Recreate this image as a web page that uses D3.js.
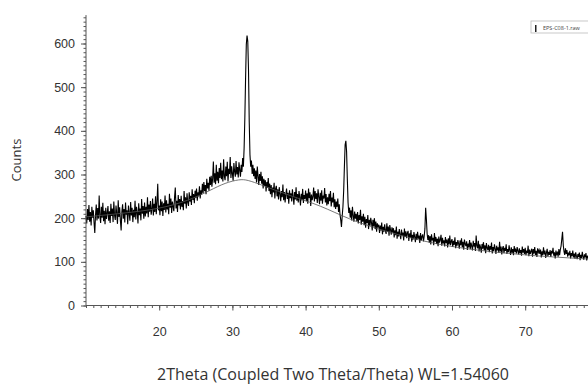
<!DOCTYPE html>
<html>
<head>
<meta charset="utf-8">
<script src="https://cdn.jsdelivr.net/npm/d3@7"></script>
<style>
  body { margin: 0; background: #fff; }
  svg { display: block; font-family: "Open Sans", sans-serif; }
</style>
</head>
<body>
<svg id="chart"></svg>
<script>
// scan grid: 2theta start / step (deg)
let thetaStart = 10.0;
let thetaStep = 0.1;

// measured counts, one row per degree (10 points each)
let counts = [
  205, 188, 221, 196, 230, 192, 214, 183, 226, 201,
  218, 190, 166, 207, 231, 195, 223, 199, 252, 204,
  189, 226, 201, 235, 193, 217, 186, 224, 198, 212,
  228, 194, 216, 189, 233, 205, 222, 191, 238, 207,
  196, 229, 210, 187, 241, 203, 225, 194, 172, 215,
  232, 199, 221, 190, 236, 208, 218, 186, 229, 211,
  194, 237, 206, 224, 191, 219, 202, 240, 197, 226,
  213, 188, 234, 207, 222, 195, 244, 210, 228, 199,
  236, 204, 226, 211, 248, 202, 231, 215, 239, 208,
  221, 245, 206, 233, 214, 250, 209, 237, 279, 218,
  229, 207, 243, 216, 238, 205, 234, 219, 252, 213,
  241, 220, 233, 209, 256, 224, 245, 212, 238, 227,
  216, 249, 270, 222, 240, 214, 253, 229, 244, 220,
  251, 226, 239, 218, 262, 233, 248, 222, 257, 236,
  228, 259, 238, 251, 230, 266, 242, 255, 234, 263,
  247, 268, 240, 259, 250, 273, 245, 264, 254, 279,
  258, 283, 262, 276, 255, 290, 268, 281, 263, 295,
  276, 297, 272, 291, 330, 281, 303, 278, 322, 286,
  306, 280, 315, 292, 327, 289, 309, 284, 335, 296,
  287, 318, 296, 329, 284, 313, 301, 340, 292, 319,
  302, 286, 326, 307, 295, 331, 300, 317, 293, 328,
  310, 295, 322, 306, 338, 318, 360, 430, 520, 598,
  618, 605, 540, 420, 345, 318, 332, 301, 322, 296,
  314, 290, 309, 282, 318, 297, 276, 301, 285, 306,
  279, 296, 268, 290, 274, 287, 261, 283, 270, 292,
  262, 279, 255, 276, 248, 270, 259, 281, 245, 268,
  274, 250, 266, 243, 271, 256, 239, 262, 248, 277,
  241, 260, 236, 255, 268, 244, 258, 233, 264, 246,
  257, 238, 266, 249, 231, 260, 243, 271, 240, 255,
  236, 262, 248, 229, 256, 241, 267, 235, 253, 244,
  263, 239, 257, 233, 268, 246, 259, 228, 254, 241,
  250, 270, 238, 262, 244, 257, 235, 266, 249, 232,
  258, 240, 264, 233, 252, 245, 269, 236, 255, 229,
  248, 232, 256, 239, 262, 227, 247, 236, 258, 225,
  243, 221, 238, 226, 245, 214, 232, 208, 196, 180,
  205, 226, 262, 318, 368, 377, 352, 290, 236, 212,
  224, 201, 218, 195, 226, 206, 192, 215, 199, 210,
  193, 214, 188, 207, 196, 219, 185, 204, 192, 210,
  184, 203, 178, 198, 189, 207, 175, 196, 183, 201,
  190, 172, 196, 181, 200, 175, 192, 169, 188, 179,
  185, 166, 183, 172, 190, 163, 180, 169, 186, 171,
  164, 188, 169, 181, 160, 184, 173, 162, 179, 167,
  177, 156, 172, 161, 181, 153, 169, 158, 175, 163,
  152, 174, 160, 167, 149, 176, 157, 170, 154, 166,
  171, 148, 165, 155, 173, 146, 162, 151, 168, 157,
  145, 164, 150, 169, 153, 160, 143, 166, 149, 158,
  163, 147, 158, 176, 224, 198, 165, 150, 161, 144,
  159, 140, 163, 149, 155, 138, 166, 146, 157, 141,
  153, 136, 158, 144, 150, 162, 137, 155, 142, 149,
  135, 157, 143, 151, 133, 154, 140, 160, 138, 147,
  152, 134, 148, 139, 156, 131, 145, 137, 150, 142,
  130, 149, 138, 154, 133, 146, 128, 151, 141, 136,
  147, 127, 142, 133, 150, 129, 144, 136, 126, 148,
  135, 143, 125, 160, 137, 131, 148, 124, 140, 133,
  121, 141, 130, 145, 126, 138, 120, 143, 132, 127,
  139, 122, 136, 128, 144, 119, 134, 125, 140, 130,
  118, 137, 126, 133, 121, 146, 124, 135, 117, 131,
  136, 120, 132, 125, 140, 118, 129, 122, 138, 126,
  116, 133, 121, 129, 115, 136, 123, 128, 119, 134,
  125, 117, 131, 120, 127, 114, 135, 121, 129, 118,
  132, 115, 126, 120, 137, 113, 128, 118, 124, 130,
  112, 129, 119, 134, 116, 125, 111, 131, 122, 127,
  118, 128, 110, 124, 115, 133, 117, 126, 109, 121,
  130, 113, 123, 116, 127, 111, 125, 119, 132, 114,
  122, 108, 126, 117, 121, 112, 129, 115, 128, 136,
  152, 169, 138, 124, 116, 131, 118, 127, 112, 121,
  115, 125, 108, 120, 113, 126, 110, 119, 107, 122,
  113, 106, 118, 111, 121, 104, 116, 109, 123, 112,
  105, 117, 110, 120, 103, 114, 108, 119, 106, 115,
  110
];

// fitted background curve
let bgTheta  = [10, 15, 20, 24, 27, 29, 31, 32, 34, 36, 38, 40, 42, 44, 46, 48, 50, 52, 54, 56, 58, 60, 62, 64, 66, 68, 70, 72, 74, 76, 78, 80];
let bgCounts = [203, 211, 221, 240, 264, 281, 289, 288, 276, 263, 251, 240, 228, 213, 198, 186, 175, 165, 156, 148, 141, 135, 130, 126, 122, 119, 116, 113, 111, 109, 107, 105];

let xTicks = [20, 30, 40, 50, 60, 70];
let yTicks = [0, 100, 200, 300, 400, 500, 600];
let legendLabel = "EPS-C08-1.raw";

let svgWidth = 588, svgHeight = 387;
let svg = d3.select("#chart")
  .attr("width", svgWidth)
  .attr("height", svgHeight);

let x = d3.scaleLinear().domain([10, 80]).range([86, 598.4]);
let y = d3.scaleLinear().domain([0, 600]).range([305.5, 43.5]);
let yTop = 665;

let axisColor = "#555";
let textColor = "#333";

let pattern = counts.map(function (c, i) { return [thetaStart + i * thetaStep, c]; });
let background = bgTheta.map(function (t, i) { return [t, bgCounts[i]]; });

let line = d3.line()
  .x(function (d) { return x(d[0]); })
  .y(function (d) { return y(d[1]); });

// data trace
svg.append("path")
  .datum(pattern)
  .attr("fill", "none")
  .attr("stroke", "#000")
  .attr("stroke-width", 1.1)
  .attr("d", line);

// background
svg.append("path")
  .datum(background)
  .attr("fill", "none")
  .attr("stroke", "#555")
  .attr("stroke-width", 0.8)
  .attr("d", line.curve(d3.curveBasis));

// x axis
let xMinor = d3.range(10, 81, 1);
let gx = svg.append("g").attr("transform", "translate(0," + y(0) + ")");
gx.call(d3.axisBottom(x).tickValues(xMinor).tickSize(2.5).tickFormat(""))
  .call(function (g) { g.select(".domain").remove(); });
gx.append("line")
  .attr("x1", x(10)).attr("x2", svgWidth)
  .attr("stroke", axisColor);
gx.selectAll(".tick line").attr("stroke", axisColor);
let gxMajor = svg.append("g").attr("transform", "translate(0," + y(0) + ")");
gxMajor.call(d3.axisBottom(x).tickValues(xTicks).tickSize(5).tickPadding(17).tickFormat(d3.format("d")))
  .call(function (g) { g.select(".domain").remove(); });
gxMajor.selectAll(".tick line").attr("stroke", axisColor);
gxMajor.selectAll(".tick text").attr("fill", textColor).attr("font-size", 12.5);

// y axis
let yMinor = d3.range(0, yTop + 1, 10);
let gy = svg.append("g").attr("transform", "translate(" + x(10) + ",0)");
gy.call(d3.axisLeft(y).tickValues(yMinor).tickSize(2.5).tickFormat(""))
  .call(function (g) { g.select(".domain").remove(); });
gy.selectAll(".tick line").attr("stroke", axisColor);
gy.append("line")
  .attr("y1", y(0)).attr("y2", y(yTop))
  .attr("stroke", axisColor);
let gyMajor = svg.append("g").attr("transform", "translate(" + x(10) + ",0)");
gyMajor.call(d3.axisLeft(y).tickValues(yTicks).tickSize(5).tickPadding(6).tickFormat(d3.format("d")))
  .call(function (g) { g.select(".domain").remove(); });
gyMajor.selectAll(".tick line").attr("stroke", axisColor);
gyMajor.selectAll(".tick text").attr("fill", textColor).attr("font-size", 12.5);

// axis titles
svg.append("text")
  .attr("transform", "translate(21,160) rotate(-90)")
  .attr("text-anchor", "middle")
  .attr("fill", textColor)
  .attr("font-size", 13)
  .text("Counts");

svg.append("text")
  .attr("x", 333)
  .attr("y", 380)
  .attr("text-anchor", "middle")
  .attr("fill", textColor)
  .attr("font-size", 16)
  .text("2Theta (Coupled Two Theta/Theta) WL=1.54060");

// legend
let lg = svg.append("g").attr("transform", "translate(531,21)");
lg.append("rect")
  .attr("width", 60).attr("height", 12)
  .attr("fill", "#fff").attr("stroke", "#bbb").attr("stroke-width", 0.8);
lg.append("rect")
  .attr("x", 4).attr("y", 4).attr("width", 1.5).attr("height", 7)
  .attr("fill", "#222");
lg.append("text")
  .attr("x", 12).attr("y", 8.5)
  .attr("fill", "#444")
  .attr("font-size", 5.5)
  .text(legendLabel);
</script>
</body>
</html>
